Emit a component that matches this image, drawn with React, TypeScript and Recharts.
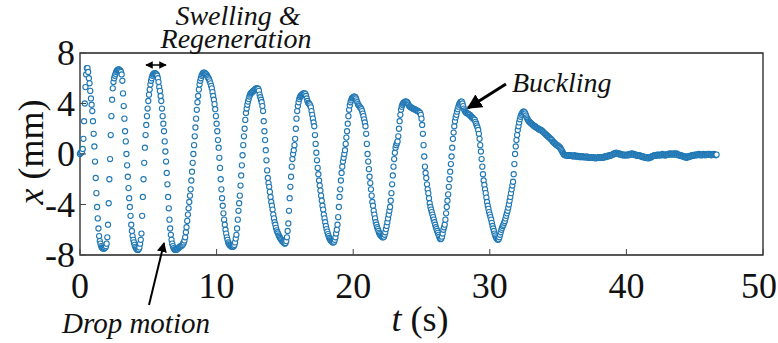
import { ScatterChart, Scatter, XAxis, YAxis, ReferenceArea } from 'recharts';

// camera samples every 0.05 s, one row per second
const sampleStep = 0.05;

const dropX = [
	0, 0.1, 0.1, 0.2, 0.4, 1.2, 2.6, 4.0, 5.3, 6.3, 6.8, 6.8, 6.5, 6.0, 5.6, 5.0, 4.4, 3.9, 3.4, 2.6,
	1.6, 0.6, -0.6, -1.9, -3.1, -4.2, -5.1, -5.9, -6.5, -6.9, -7.1, -7.3, -7.4, -7.45, -7.5, -7.5, -7.45, -7.4, -7.3, -7.1,
	-6.6, -5.6, -3.9, -2.0, -0.4, 1.5, 3.0, 4.3, 5.2, 5.7, 6.0, 6.2, 6.35, 6.5, 6.6, 6.65, 6.7, 6.7, 6.65, 6.6,
	6.5, 6.3, 5.8, 4.8, 3.8, 2.8, 1.8, 1.0, 0.0, -0.9, -1.8, -2.7, -3.5, -4.2, -4.9, -5.6, -6.1, -6.5, -6.8, -7.0,
	-7.2, -7.35, -7.45, -7.55, -7.6, -7.6, -7.55, -7.4, -7.1, -6.8, -6.3, -4.9, -3.4, -2.0, -0.7, 0.5, 1.5, 2.3, 3.0, 3.6,
	4.2, 4.7, 5.1, 5.5, 5.8, 6.0, 6.2, 6.3, 6.35, 6.4, 6.4, 6.35, 6.3, 6.2, 6.0, 5.7, 5.3, 5.0, 4.6, 4.2,
	3.6, 3.0, 2.4, 1.8, 1.0, 0.2, -0.6, -1.5, -2.4, -3.4, -4.3, -5.2, -5.9, -6.4, -6.8, -7.1, -7.3, -7.45, -7.55, -7.6,
	-7.6, -7.6, -7.55, -7.5, -7.45, -7.4, -7.35, -7.3, -7.3, -7.25, -7.2, -7.1, -7.0, -6.85, -6.6, -6.2, -5.8, -5.3, -4.8, -4.3,
	-3.8, -3.3, -2.8, -2.1, -1.4, -0.7, 0.0, 0.7, 1.4, 2.1, 2.8, 3.5, 4.1, 4.6, 5.1, 5.5, 5.8, 6.0, 6.2, 6.3,
	6.4, 6.45, 6.45, 6.4, 6.35, 6.3, 6.2, 6.1, 6.0, 5.9, 5.75, 5.6, 5.4, 5.2, 4.9, 4.6, 4.3, 3.95, 3.55, 3.0,
	2.4, 1.8, 1.1, 0.5, -0.3, -1.1, -2.0, -2.8, -3.5, -4.1, -4.7, -5.2, -5.6, -6.0, -6.3, -6.6, -6.8, -7.0, -7.1, -7.2,
	-7.25, -7.3, -7.35, -7.35, -7.35, -7.3, -7.2, -7.0, -6.7, -6.4, -5.9, -5.2, -4.5, -3.9, -3.3, -2.5, -1.7, -0.9, -0.1, 0.7,
	1.4, 2.0, 2.7, 3.25, 3.6, 3.9, 4.15, 4.35, 4.55, 4.7, 4.8, 4.85, 4.9, 4.95, 5.0, 5.05, 5.1, 5.15, 5.2, 5.2,
	5.2, 5.15, 5.0, 4.7, 4.5, 4.3, 4.1, 3.8, 3.4, 2.6, 1.8, 1.1, 0.3, -0.5, -1.3, -1.9, -2.3, -2.6, -3.0, -3.4,
	-3.8, -4.1, -4.4, -4.8, -5.1, -5.4, -5.6, -5.85, -6.05, -6.2, -6.3, -6.45, -6.55, -6.65, -6.75, -6.8, -6.9, -6.95, -7.0, -7.05,
	-7.1, -7.05, -6.9, -6.6, -6.1, -5.5, -4.5, -3.5, -2.6, -1.8, -1.0, -0.4, 0.0, 0.3, 0.7, 1.2, 2.0, 2.8, 3.4, 3.8,
	4.1, 4.35, 4.5, 4.6, 4.65, 4.7, 4.75, 4.8, 4.8, 4.8, 4.75, 4.6, 4.4, 4.2, 4.05, 4.0, 3.95, 3.85, 3.7, 3.4,
	3.1, 2.8, 2.5, 2.2, 1.5, 0.8, 0.1, -0.5, -1.1, -1.6, -2.1, -2.5, -2.9, -3.3, -3.7, -4.1, -4.4, -4.8, -5.1, -5.4,
	-5.7, -5.95, -6.15, -6.35, -6.5, -6.65, -6.75, -6.85, -6.9, -6.95, -7.0, -7.0, -6.95, -6.8, -6.6, -6.3, -6.0, -5.6, -5.0, -4.2,
	-3.4, -2.8, -2.1, -1.5, -1.0, -0.6, -0.3, 0.0, 0.3, 0.8, 1.3, 1.8, 2.4, 3.0, 3.5, 3.85, 4.1, 4.25, 4.4, 4.45,
	4.5, 4.55, 4.55, 4.5, 4.4, 4.25, 4.1, 3.95, 3.85, 3.8, 3.7, 3.65, 3.55, 3.4, 3.2, 3.0, 2.75, 2.5, 2.2, 1.6,
	0.8, 0.0, -0.6, -1.2, -1.8, -2.3, -2.8, -3.3, -3.8, -4.1, -4.5, -4.8, -5.1, -5.4, -5.6, -5.8, -5.95, -6.1, -6.25, -6.35,
	-6.45, -6.5, -6.55, -6.6, -6.6, -6.55, -6.4, -6.2, -5.95, -5.7, -5.4, -5.1, -4.8, -4.5, -4.2, -3.7, -3.1, -2.4, -1.7, -1.0,
	-0.4, 0.1, 0.5, 0.7, 0.85, 1.0, 1.4, 2.0, 2.6, 3.1, 3.5, 3.75, 3.9, 4.0, 4.05, 4.1, 4.15, 4.15, 4.15, 4.1,
	4.0, 3.9, 3.8, 3.75, 3.7, 3.7, 3.65, 3.6, 3.6, 3.55, 3.55, 3.5, 3.5, 3.45, 3.4, 3.4, 3.35, 3.3, 3.25, 3.1,
	2.8, 2.3, 1.6, 0.7, -0.2, -1.0, -1.5, -1.9, -2.4, -2.8, -3.1, -3.5, -3.9, -4.2, -4.4, -4.6, -4.8, -5.0, -5.2, -5.4,
	-5.6, -5.8, -5.95, -6.1, -6.25, -6.4, -6.55, -6.7, -6.75, -6.7, -6.55, -6.3, -6.0, -5.8, -5.6, -5.2, -4.7, -4.2, -3.7, -3.2,
	-2.6, -2.0, -1.4, -0.8, -0.2, 0.5, 1.2, 1.7, 2.2, 2.6, 2.9, 3.1, 3.35, 3.55, 3.75, 3.9, 4.0, 4.1, 4.15, 4.15,
	4.0, 3.8, 3.6, 3.45, 3.35, 3.3, 3.25, 3.2, 3.2, 3.15, 3.1, 3.1, 3.0, 2.95, 2.9, 2.85, 2.8, 2.75, 2.7, 2.55,
	2.4, 2.25, 2.1, 1.9, 1.6, 1.2, 0.7, 0.2, -0.4, -1.0, -1.6, -2.1, -2.45, -2.8, -3.1, -3.45, -3.8, -4.1, -4.35, -4.6,
	-4.8, -5.0, -5.2, -5.45, -5.7, -5.9, -6.1, -6.3, -6.45, -6.6, -6.7, -6.75, -6.8, -6.75, -6.6, -6.4, -6.2, -6.0, -5.85, -5.7,
	-5.6, -5.45, -5.3, -5.1, -4.9, -4.7, -4.5, -4.25, -4.0, -3.7, -3.4, -3.1, -2.8, -2.5, -2.2, -1.6, -0.8, 0.0, 0.6, 1.1,
	1.5, 1.9, 2.2, 2.5, 2.75, 2.95, 3.1, 3.2, 3.3, 3.35, 3.35, 3.3, 3.2, 3.05, 2.9, 2.8, 2.7, 2.6, 2.55, 2.5,
	2.45, 2.4, 2.35, 2.3, 2.25, 2.2, 2.2, 2.15, 2.1, 2.05, 2.05, 2.0, 1.95, 1.95, 1.9, 1.9, 1.85, 1.8, 1.75, 1.7,
	1.65, 1.6, 1.55, 1.5, 1.45, 1.4, 1.35, 1.3, 1.25, 1.2, 1.15, 1.1, 1.0, 0.95, 0.9, 0.85, 0.8, 0.75, 0.7, 0.7,
	0.65, 0.6, 0.55, 0.5, 0.4, 0.3, 0.2, 0.1, 0.0, -0.05, -0.1, -0.1, -0.1, -0.1, -0.15, -0.15, -0.1, -0.1, -0.1, -0.15,
	-0.15, -0.15, -0.2, -0.15, -0.1, -0.15, -0.2, -0.2, -0.15, -0.15, -0.2, -0.2, -0.25, -0.2, -0.2, -0.25, -0.2, -0.2, -0.25, -0.25,
	-0.25, -0.25, -0.2, -0.25, -0.3, -0.25, -0.25, -0.3, -0.3, -0.25, -0.3, -0.3, -0.25, -0.3, -0.3, -0.35, -0.3, -0.3, -0.25, -0.3,
	-0.3, -0.25, -0.3, -0.3, -0.25, -0.25, -0.3, -0.25, -0.2, -0.25, -0.2, -0.2, -0.15, -0.2, -0.15, -0.1, -0.15, -0.1, -0.1, -0.05,
	-0.05, 0.0, 0.05, 0.0, 0.05, 0.1, 0.05, 0.05, 0.0, 0.05, 0.0, -0.05, 0.0, -0.05, -0.1, -0.05, -0.1, -0.05, -0.1, -0.1,
	-0.05, -0.1, -0.05, -0.1, -0.05, 0.0, -0.05, 0.0, 0.05, 0.0, -0.05, 0.0, -0.05, -0.1, -0.05, -0.1, -0.15, -0.1, -0.15, -0.1,
	-0.15, -0.2, -0.15, -0.2, -0.25, -0.2, -0.25, -0.3, -0.25, -0.3, -0.25, -0.3, -0.35, -0.3, -0.25, -0.3, -0.25, -0.2, -0.2, -0.15,
	-0.15, -0.1, -0.15, -0.1, -0.1, -0.05, -0.1, -0.05, -0.1, -0.1, -0.05, -0.1, -0.05, 0.0, -0.05, -0.1, -0.05, -0.1, -0.1, -0.05,
	-0.05, 0.0, -0.05, 0.0, 0.05, 0.0, 0.0, -0.05, 0.0, 0.05, 0.0, -0.05, 0.0, 0.05, 0.0, -0.05, -0.1, -0.05, -0.1, -0.15,
	-0.1, -0.15, -0.2, -0.15, -0.2, -0.25, -0.2, -0.25, -0.3, -0.25, -0.2, -0.25, -0.2, -0.15, -0.2, -0.15, -0.1, -0.15, -0.1, -0.1,
	-0.05, -0.1, -0.05, -0.1, -0.05, -0.05, 0.0, -0.05, -0.1, -0.05, -0.05, -0.1, -0.05, 0.0, -0.05, -0.05, -0.1, -0.05, -0.05, 0.0,
	-0.05, -0.05, 0.0, -0.05, -0.1, -0.05, -0.05, -0.05, 0.0, -0.05, -0.05, -0.1, -0.05,
];

const xTicks = [0, 10, 20, 30, 40, 50];
const yTicks = [-8, -4, 0, 4, 8];

const data = dropX.map((x, i) => ({ t: +(i * sampleStep).toFixed(2), x }));

const serif = 'Liberation Serif, Times New Roman, DejaVu Serif, serif';
const dotColor = '#1f77b4';
const ink = '#111';

const XTick = (props: any) => {
	const { x, y, payload } = props;
	const labelX = payload.value === 50 ? x - 4 : x;
	return (
		<g>
			<line x1={x} y1={y} x2={x} y2={y - 6} stroke="#444" strokeWidth={1} />
			<text x={labelX} y={y + 43} textAnchor="middle" style={{ fontFamily: serif, fontSize: 36 }} fill={ink}>
				{payload.value}
			</text>
		</g>
	);
};

const YTick = (props: any) => {
	const { x, y, payload } = props;
	return (
		<g>
			<line x1={x} y1={y} x2={x + 6} y2={y} stroke="#444" strokeWidth={1} />
			<text x={x - 5} y={y + 12} textAnchor="end" style={{ fontFamily: serif, fontSize: 36 }} fill={ink}>
				{payload.value}
			</text>
		</g>
	);
};

const Dot = (props: any) => (
	<circle cx={props.cx} cy={props.cy} r={2.6} fill="#fff" stroke={dotColor} strokeWidth={1.1} />
);

const note = { fontFamily: serif, fontStyle: 'italic', fontSize: 28 } as const;

export default function App() {
	return (
		<div style={{ position: 'absolute', left: 0, top: 0, width: 778, height: 343, background: '#fff' }}>
			<ScatterChart width={778} height={343} margin={{ top: 53, right: 15, bottom: 48, left: 20 }}>
				<XAxis
					dataKey="t"
					type="number"
					domain={[0, 50]}
					ticks={xTicks}
					interval={0}
					axisLine={false}
					tickLine={false}
					tickSize={0}
					tickMargin={0}
					height={40}
					tick={XTick}
				/>
				<YAxis
					dataKey="x"
					type="number"
					domain={[-8, 8]}
					ticks={yTicks}
					interval={0}
					axisLine={false}
					tickLine={false}
					tickSize={0}
					tickMargin={0}
					width={60}
					tick={YTick}
				/>
				<ReferenceArea x1={0} x2={50} y1={-8} y2={8} fill="none" stroke="#222" strokeWidth={1.3} />
				<Scatter data={data} dataKey="x" shape={Dot} isAnimationActive={false} />
			</ScatterChart>
			<svg
				width={778}
				height={343}
				style={{ position: 'absolute', left: 0, top: 0, pointerEvents: 'none', fontFamily: serif }}
			>
				<defs>
					<marker id="head" viewBox="0 0 10 10" refX="9" refY="5" markerWidth="5" markerHeight="5" orient="auto-start-reverse">
						<path d="M0,0 L10,5 L0,10 z" fill="#000" />
					</marker>
				</defs>
				<text x={420} y={331} textAnchor="middle" style={{ fontFamily: serif, fontSize: 36 }} fill={ink}>
					<tspan style={{ fontStyle: 'italic' }}>t</tspan> (s)
				</text>
				<text transform="rotate(-90 43 152)" x={43} y={152} textAnchor="middle" style={{ fontFamily: serif, fontSize: 36 }} fill={ink}>
					<tspan style={{ fontStyle: 'italic' }}>x</tspan> (mm)
				</text>
				<text x={238} y={25} textAnchor="middle" style={note} fill={ink}>
					Swelling &amp;
				</text>
				<text x={236} y={48} textAnchor="middle" style={note} fill={ink}>
					Regeneration
				</text>
				<line x1={146} y1={65} x2={166} y2={65} stroke="#000" strokeWidth={1.5} markerStart="url(#head)" markerEnd="url(#head)" />
				<text x={62} y={333} style={{ ...note, fontSize: 29 }} fill={ink}>
					Drop motion
				</text>
				<line x1={149} y1={305} x2={164} y2={243} stroke="#000" strokeWidth={2} markerEnd="url(#head)" />
				<text x={512} y={92} style={note} fill={ink}>
					Buckling
				</text>
				<line x1={506} y1={84} x2={468} y2={108} stroke="#000" strokeWidth={3} markerEnd="url(#head)" />
			</svg>
		</div>
	);
}
